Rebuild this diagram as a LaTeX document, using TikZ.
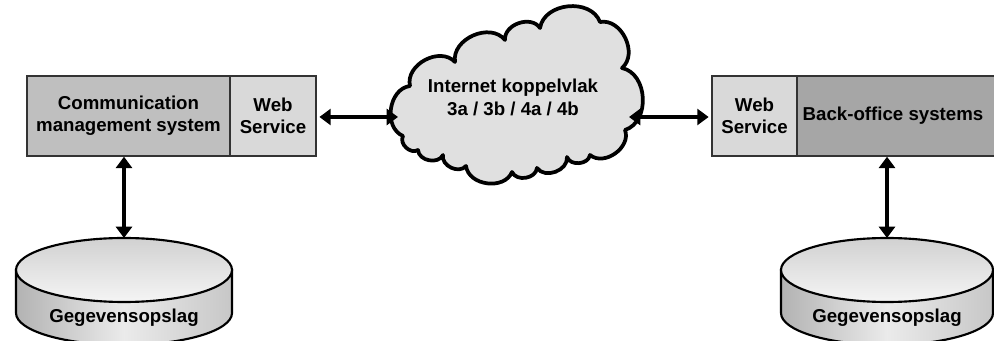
\documentclass[tikz,border=0pt]{standalone}
\usepackage{fontspec}
\setmainfont{Liberation Sans}
\usetikzlibrary{arrows.meta}
\begin{document}
\begin{tikzpicture}[x=0.75pt,y=-0.75pt,
  lbl/.style={font=\bfseries\fontsize{14}{16.5}\selectfont, align=center, inner sep=0pt},
  sysbox/.style={draw=black!80, line width=1.1pt, inner sep=0pt, minimum height=60pt},
  link/.style={line width=2.8pt, {Triangle[width=12pt,length=8.5pt]}-{Triangle[width=12pt,length=8.5pt]}},
  cloudline/.style={line width=2.8pt, line join=round, fill=black!12},
  puff/.style={bend left=75, looseness=1.1},
]
\useasboundingbox (0,0) rectangle (994,341);
\clip (0,0) rectangle (994,341);

% --- system boxes ---
\node[sysbox, fill=black!25, minimum width=152.25pt] (cms) at (128.5,116) {};
\node[lbl] (cmslbl) at (128.5,116) {Communication\\management system};
\node[sysbox, fill=black!15, minimum width=64.5pt] (ws1) at (273,116) {};
\node[lbl] (ws1lbl) at (273,116) {Web\\Service};

\node[sysbox, fill=black!15, minimum width=63.75pt] (ws2) at (754.5,116) {};
\node[lbl] (ws2lbl) at (754.5,116) {Web\\Service};
\node[sysbox, fill=black!35, minimum width=154pt] (bo) at (899.5,116) {};
\node[lbl] (bolbl) at (893,116) {Back-office systems};

% --- cloud ---
\draw[cloudline]
  (403,136) to[puff] (410,86) to[puff] (455,62) to[puff] (505,40)
  to[puff] (540,28) to[puff] (600,22) to[puff] (622,68) to[puff] (625,130)
  to[puff] (590,155) to[puff] (567,157) to[puff] (537,168) to[puff] (512,172)
  to[puff] (466,166) to[puff] (443,155) to[puff] (418,150) to[puff] (403,136) -- cycle;
\node[lbl, font=\bfseries\fontsize{14}{17.25}\selectfont] (inet) at (513,97) {Internet koppelvlak\\3a / 3b / 4a / 4b};
\coordinate (cloudW) at (398,117);
\coordinate (cloudE) at (629,117);

% --- data stores ---
\newcommand{\datastore}[3]{% centre x, half width, name
  \begin{scope}
    \path[left color=black!30, right color=black!22, middle color=black!8, draw=black, line width=1.6pt]
      (#1-#2,270) -- (#1-#2,313) arc[start angle=180, end angle=0, x radius=#2, y radius=32]
      -- (#1+#2,270) -- cycle;
    \path[top color=black!18, bottom color=black!4, draw=black, line width=1.6pt]
      (#1,270) ellipse[x radius=#2, y radius=32];
  \end{scope}
  \coordinate (#3top) at (#1,238);
  \node[lbl] (#3lbl) at (#1,318) {Gegevensopslag};
}
\datastore{124}{108}{dbA}
\datastore{887}{106}{dbB}

% --- connectors ---
\draw[link, shorten <=2pt] (ws1.east |- cloudW) -- (cloudW);
\draw[link, shorten >=2pt] (cloudE) -- (ws2.west |- cloudE);
\draw[link] (dbAtop |- cms.south) -- (dbAtop);
\draw[link] (dbBtop |- bo.south) -- (dbBtop);
\end{tikzpicture}
\end{document}
